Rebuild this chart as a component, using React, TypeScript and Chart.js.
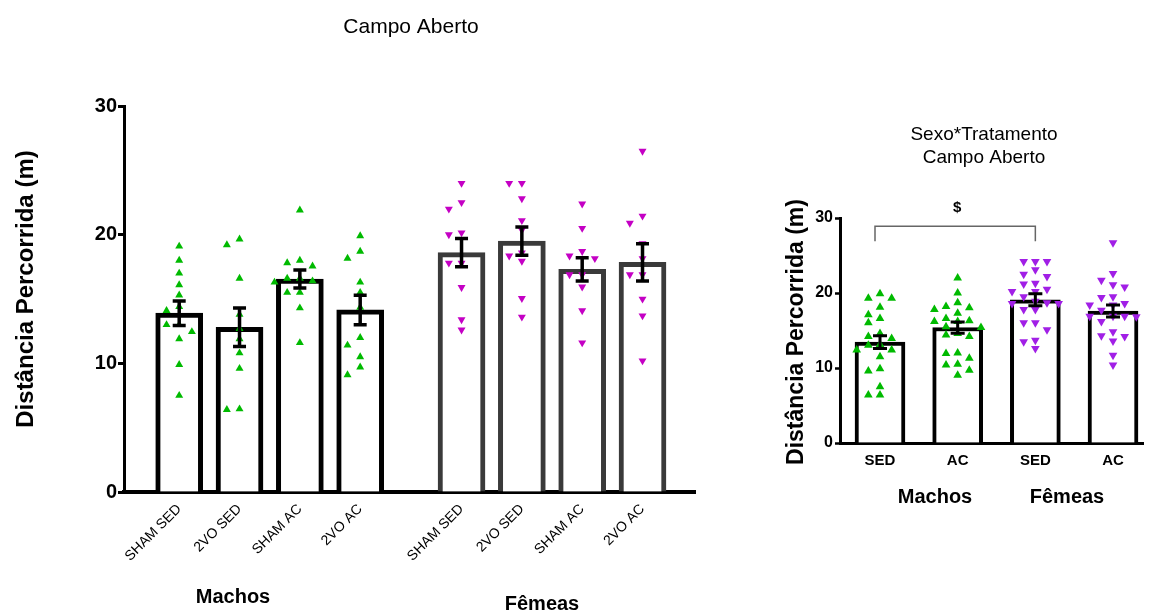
import React, { useEffect, useRef } from "react";
import { Chart, registerables } from "chart.js";
Chart.register(...registerables);

const FONT = "'Liberation Sans', Arial, Helvetica, sans-serif";

// ---------- Left chart data ----------
const leftCategories = ["SHAM SED", "2VO SED", "SHAM AC", "2VO AC", "SHAM SED", "2VO SED", "SHAM AC", "2VO AC"];
const leftMeans = [13.9, 12.8, 16.55, 14.15, 18.6, 19.5, 17.3, 17.85];
const leftSems = [0.95, 1.5, 0.7, 1.15, 1.1, 1.1, 0.9, 1.45];
const machosShamSed = [19.1, 18.0, 17.0, 16.1, 15.3, 14.4, 14.1, 13.0, 13.0, 12.45, 11.9, 9.9, 7.5];
const machos2voSed = [19.2, 19.65, 16.6, 13.8, 12.7, 11.9, 10.8, 9.6, 6.4, 6.45];
const machosShamAc = [21.9, 18.0, 17.8, 17.55, 16.6, 16.6, 16.3, 16.4, 15.5, 15.5, 14.3, 11.6];
const machos2voAc = [19.9, 18.7, 18.15, 16.3, 15.5, 14.35, 12.0, 11.4, 10.5, 9.7, 9.1];
const femeasShamSed = [24.0, 22.5, 22.0, 20.0, 20.15, 17.8, 17.8, 15.9, 13.4, 12.6];
const femeas2voSed = [24.0, 24.0, 22.8, 21.1, 20.35, 18.6, 18.35, 17.95, 15.05, 13.6];
const femeasShamAc = [22.4, 20.5, 18.7, 18.35, 18.15, 16.9, 16.9, 15.95, 14.1, 11.6];
const femeas2voAc = [26.5, 21.45, 20.9, 19.3, 18.15, 16.9, 16.9, 15.0, 13.7, 10.2];

// ---------- Right chart data ----------
const rightCategories = ["SED", "AC", "SED", "AC"];
const rightMeans = [13.45, 15.4, 19.1, 17.6];
const rightSems = [0.85, 0.75, 0.8, 0.8];
const rMachosSed = [19.9, 19.3, 19.3, 18.1, 17.1, 16.6, 16.05, 14.6, 14.2, 13.95, 13.15, 13.05, 12.4, 12.4, 11.5, 9.9, 9.6, 7.5, 6.4, 6.4];
const rMachosAc = [22.0, 20.0, 18.7, 18.2, 18.05, 17.8, 17.3, 16.6, 16.3, 16.2, 16.2, 15.5, 15.4, 14.6, 14.4, 14.2, 12.0, 11.95, 11.3, 10.5, 10.4, 9.7, 9.05];
const rFemeasSed = [24.2, 24.2, 24.2, 23.1, 22.5, 22.2, 21.3, 21.2, 20.5, 20.2, 20.2, 19.5, 18.9, 18.7, 18.6, 18.6, 17.8, 17.8, 16.05, 16.05, 15.1, 13.7, 13.5, 12.6];
const rFemeasAc = [26.7, 22.6, 21.7, 21.1, 20.8, 19.5, 19.4, 18.6, 18.4, 18.4, 17.7, 16.9, 16.85, 16.9, 16.9, 16.2, 14.85, 14.3, 14.2, 13.6, 11.7, 10.4];

const GREEN = "#00BA00";
const MAGENTA = "#C400C4";
const PURPLE = "#A11FE6";

// deterministic beeswarm-style spreading of points around a bar center
function swarm(values: number[], center: number, step: number, xTol: number, yTol: number) {
  const order = values.map((_, i) => i).sort((a, b) => values[b] - values[a]);
  const placed: { x: number; y: number }[] = [];
  const out: { x: number; y: number }[] = new Array(values.length);
  for (const i of order) {
    const y = values[i];
    let done = false;
    for (const k of [0, -1, 1, -2, 2, -3, 3, -4, 4, -5, 5]) {
      const x = k * step;
      if (placed.every((p) => Math.abs(p.y - y) >= yTol || Math.abs(p.x - x) >= xTol)) {
        placed.push({ x, y });
        out[i] = { x: center + x, y };
        done = true;
        break;
      }
    }
    if (!done) out[i] = { x: center, y };
  }
  return out;
}

function errorBarsPlugin(capWidth: number, lineWidth: number) {
  return {
    id: "errorBars",
    afterDatasetsDraw(chart: any) {
      const ds = chart.data.datasets[0];
      const meta = chart.getDatasetMeta(0);
      const ys = chart.scales.y;
      const ctx = chart.ctx;
      ctx.save();
      ctx.strokeStyle = "#000";
      ctx.lineWidth = lineWidth;
      ctx.lineCap = "butt";
      meta.data.forEach((el: any, i: number) => {
        const m = ds.data[i].y;
        const s = ds.errors[i];
        const top = ys.getPixelForValue(m + s);
        const bot = ys.getPixelForValue(m - s);
        const x = el.x;
        ctx.beginPath();
        ctx.moveTo(x, top);
        ctx.lineTo(x, bot);
        ctx.moveTo(x - capWidth / 2, top);
        ctx.lineTo(x + capWidth / 2, top);
        ctx.moveTo(x - capWidth / 2, bot);
        ctx.lineTo(x + capWidth / 2, bot);
        ctx.stroke();
      });
      ctx.restore();
    },
  };
}

type TextItem = { text: string; x: number; y: number; font: string; rotate?: number };
function textsPlugin(items: TextItem[]) {
  return {
    id: "texts",
    afterDraw(chart: any) {
      const ctx = chart.ctx;
      items.forEach((t) => {
        ctx.save();
        ctx.font = t.font;
        ctx.fillStyle = "#000";
        ctx.textAlign = "center";
        ctx.textBaseline = "middle";
        ctx.translate(t.x, t.y);
        if (t.rotate) ctx.rotate(t.rotate);
        ctx.fillText(t.text, 0, 0);
        ctx.restore();
      });
    },
  };
}

function LeftChart() {
  const ref = useRef<HTMLCanvasElement>(null);
  useEffect(() => {
    const GROUP_GAP = 0.68;
    const positions = leftCategories.map((_, i) => i + (i >= 4 ? GROUP_GAP : 0));
    const pointSets = [machosShamSed, machos2voSed, machosShamAc, machos2voAc, femeasShamSed, femeas2voSed, femeasShamAc, femeas2voAc];
    const scatterSets = pointSets.map((vals, i) => ({
      type: "scatter" as const,
      data: swarm(vals, positions[i], 0.105, 0.2, 0.62),
      pointStyle: "triangle",
      rotation: i >= 4 ? 180 : 0,
      pointRadius: 4.6,
      pointBackgroundColor: i >= 4 ? MAGENTA : GREEN,
      pointBorderColor: i >= 4 ? MAGENTA : GREEN,
      pointBorderWidth: 0,
      showLine: false,
      order: 1,
      clip: false as any,
    }));
    const chart = new Chart(ref.current!, {
      type: "bar",
      data: {
        datasets: [
          {
            type: "bar",
            data: positions.map((x, i) => ({ x, y: leftMeans[i] })),
            errors: leftSems,
            backgroundColor: "#ffffff",
            borderColor: positions.map((_, i) => (i >= 4 ? "#3A3A3A" : "#000000")),
            borderWidth: 5,
            borderSkipped: "bottom",
            barThickness: 47,
            order: 2,
          } as any,
          ...(scatterSets as any[]),
        ],
      },
      options: {
        responsive: false,
        animation: false,
        events: [],
        layout: { padding: { top: 106, right: 25, left: 0, bottom: 0 } },
        plugins: { legend: { display: false }, tooltip: { enabled: false }, title: { display: false } },
        scales: {
          x: {
            type: "linear",
            offset: false,
            min: -0.915,
            max: 8.55,
            afterFit: (s: any) => {
              s.height = 123;
            },
            afterBuildTicks: (s: any) => {
              s.ticks = positions.map((v) => ({ value: v }));
            },
            grid: { drawOnChartArea: false, drawTicks: false },
            border: { display: true, color: "#000", width: 4 },
            ticks: {
              autoSkip: false,
              minRotation: 45,
              maxRotation: 45,
              padding: 9,
              color: "#000",
              font: { family: FONT, size: 14 },
              callback: (_v: any, i: number) => leftCategories[i],
            },
          },
          y: {
            min: 0,
            max: 30,
            afterFit: (s: any) => {
              s.width = 124;
            },
            grid: { drawOnChartArea: false, drawTicks: true, tickLength: 6, tickWidth: 3, tickColor: "#000" },
            border: { display: true, color: "#000", width: 3 },
            ticks: {
              stepSize: 10,
              padding: 1,
              color: "#000",
              font: { family: FONT, size: 20, weight: "bold" },
            },
          },
        },
      } as any,
      plugins: [
        errorBarsPlugin(13, 3.5),
        textsPlugin([
          { text: "Campo Aberto", x: 411, y: 27, font: `21px ${FONT}` },
          { text: "Distância Percorrida (m)", x: 26, y: 289, font: `bold 24px ${FONT}`, rotate: -Math.PI / 2 },
          { text: "Machos", x: 233, y: 597, font: `bold 20px ${FONT}` },
          { text: "Fêmeas", x: 542, y: 604, font: `bold 20px ${FONT}` },
        ]),
      ],
    });
    return () => chart.destroy();
  }, []);
  return <canvas ref={ref} width={720} height={615} style={{ position: "absolute", left: 0, top: 0, width: 720, height: 615 }} />;
}

function RightChart() {
  const ref = useRef<HTMLCanvasElement>(null);
  useEffect(() => {
    const positions = rightCategories.map((_, i) => i);
    const pointSets = [rMachosSed, rMachosAc, rFemeasSed, rFemeasAc];
    const scatterSets = pointSets.map((vals, i) => ({
      type: "scatter" as const,
      data: swarm(vals, positions[i], 0.075, 0.14, 1.05),
      pointStyle: "triangle",
      rotation: i >= 2 ? 180 : 0,
      pointRadius: 5,
      pointBackgroundColor: i >= 2 ? PURPLE : GREEN,
      pointBorderColor: i >= 2 ? PURPLE : GREEN,
      pointBorderWidth: 0,
      showLine: false,
      order: 1,
      clip: false as any,
    }));
    const bracketPlugin = {
      id: "bracket",
      afterDatasetsDraw(chart: any) {
        const xs = chart.scales.x;
        const ys = chart.scales.y;
        const ctx = chart.ctx;
        const x0 = xs.getPixelForValue(positions[0]) - 5;
        const x1 = xs.getPixelForValue(positions[2]);
        const yTop = ys.getPixelForValue(28.9);
        const yLeg = ys.getPixelForValue(26.9);
        ctx.save();
        ctx.strokeStyle = "#666";
        ctx.lineWidth = 1.5;
        ctx.beginPath();
        ctx.moveTo(x0, yLeg);
        ctx.lineTo(x0, yTop);
        ctx.lineTo(x1, yTop);
        ctx.lineTo(x1, yLeg);
        ctx.stroke();
        ctx.font = `bold 15px ${FONT}`;
        ctx.fillStyle = "#000";
        ctx.textAlign = "center";
        ctx.textBaseline = "middle";
        ctx.fillText("$", (x0 + x1) / 2 + 2, yTop - 18);
        ctx.restore();
      },
    };
    const chart = new Chart(ref.current!, {
      type: "bar",
      data: {
        datasets: [
          {
            type: "bar",
            data: positions.map((x, i) => ({ x, y: rightMeans[i] })),
            errors: rightSems,
            backgroundColor: "#ffffff",
            borderColor: "#000000",
            borderWidth: 4,
            borderSkipped: "bottom",
            barThickness: 50,
            order: 2,
          } as any,
          ...(scatterSets as any[]),
        ],
      },
      options: {
        responsive: false,
        animation: false,
        events: [],
        layout: { padding: { top: 118, right: 10, left: 0, bottom: 0 } },
        plugins: { legend: { display: false }, tooltip: { enabled: false }, title: { display: false } },
        scales: {
          x: {
            type: "linear",
            offset: false,
            min: -0.515,
            max: 3.386,
            afterFit: (s: any) => {
              s.height = 77;
            },
            afterBuildTicks: (s: any) => {
              s.ticks = positions.map((v) => ({ value: v }));
            },
            grid: { drawOnChartArea: false, drawTicks: false },
            border: { display: true, color: "#000", width: 3 },
            ticks: {
              autoSkip: false,
              maxRotation: 0,
              minRotation: 0,
              padding: 9,
              color: "#000",
              font: { family: FONT, size: 15, weight: "bold" },
              callback: (_v: any, i: number) => rightCategories[i],
            },
          },
          y: {
            min: 0,
            max: 30,
            afterFit: (s: any) => {
              s.width = 80;
            },
            grid: { drawOnChartArea: false, drawTicks: true, tickLength: 5, tickWidth: 2.5, tickColor: "#000" },
            border: { display: true, color: "#000", width: 3 },
            ticks: {
              stepSize: 10,
              padding: 2,
              color: "#000",
              font: { family: FONT, size: 16, weight: "bold" },
            },
          },
        },
      } as any,
      plugins: [
        bracketPlugin,
        errorBarsPlugin(14, 3),
        textsPlugin([
          { text: "Sexo*Tratamento", x: 224, y: 35, font: `19px ${FONT}` },
          { text: "Campo Aberto", x: 224, y: 58, font: `19px ${FONT}` },
          { text: "Distância Percorrida (m)", x: 37, y: 232, font: `bold 23px ${FONT}`, rotate: -Math.PI / 2 },
          { text: "Machos", x: 175, y: 397, font: `bold 20px ${FONT}` },
          { text: "Fêmeas", x: 307, y: 397, font: `bold 20px ${FONT}` },
        ]),
      ],
    });
    return () => chart.destroy();
  }, []);
  return <canvas ref={ref} width={393} height={420} style={{ position: "absolute", left: 760, top: 100, width: 393, height: 420 }} />;
}

export default function App() {
  return (
    <div style={{ position: "absolute", left: 0, top: 0, width: 1153, height: 615, background: "#ffffff", overflow: "hidden" }}>
      <LeftChart />
      <RightChart />
    </div>
  );
}
